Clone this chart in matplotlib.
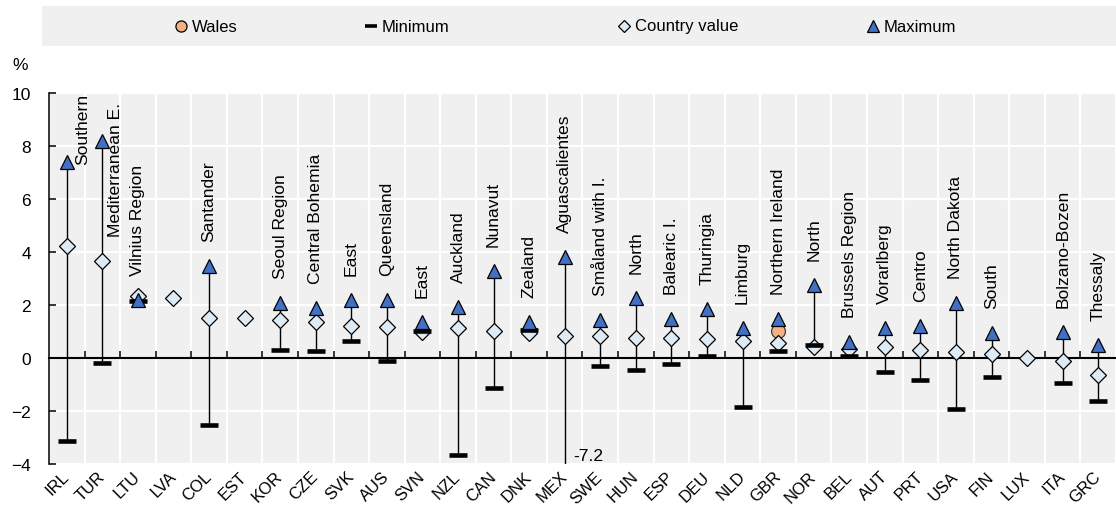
import numpy as np
import matplotlib
matplotlib.use('Agg')
import matplotlib.pyplot as plt

plt.rcParams['font.family'] = ['Liberation Sans', 'DejaVu Sans']

# data
countries = ['IRL', 'TUR', 'LTU', 'LVA', 'COL', 'EST', 'KOR', 'CZE', 'SVK', 'AUS',
             'SVN', 'NZL', 'CAN', 'DNK', 'MEX', 'SWE', 'HUN', 'ESP', 'DEU', 'NLD',
             'GBR', 'NOR', 'BEL', 'AUT', 'PRT', 'USA', 'FIN', 'LUX', 'ITA', 'GRC']
country_value = [4.23, 3.66, 2.34, 2.26, 1.51, 1.51, 1.43, 1.36, 1.21, 1.17,
                 1.0, 1.13, 1.02, 0.94, 0.83, 0.83, 0.75, 0.75, 0.72, 0.65,
                 0.57, 0.41, 0.34, 0.42, 0.30, 0.23, 0.15, 0.0, -0.11, -0.66]
minimum = [-3.13, -0.19, 2.15, np.nan, -2.53, np.nan, 0.30, 0.26, 0.65, -0.11,
           1.02, -3.66, -1.13, 1.06, -7.2, -0.29, -0.45, -0.23, 0.08, -1.85,
           0.26, 0.49, 0.08, -0.53, -0.83, -1.92, -0.72, np.nan, -0.94, -1.62]
maximum = [7.40, 8.19, 2.19, np.nan, 3.47, np.nan, 2.08, 1.89, 2.19, 2.19,
           1.36, 1.92, 3.28, 1.36, 3.80, 1.43, 2.26, 1.47, 1.85, 1.13,
           1.47, 2.75, 0.60, 1.13, 1.21, 2.08, 0.94, np.nan, 0.98, 0.49]
regions = ['Southern', 'Mediterranean E.', 'Vilnius Region', '', 'Santander', '',
           'Seoul Region', 'Central Bohemia', 'East', 'Queensland', 'East', 'Auckland',
           'Nunavut', 'Zealand', 'Aguascalientes', 'Småland with I.', 'North',
           'Balearic I.', 'Thuringia', 'Limburg', 'Northern Ireland', 'North',
           'Brussels Region', 'Vorarlberg', 'Centro', 'North Dakota', 'South', '',
           'Bolzano-Bozen', 'Thessaly']
wales_country = 'GBR'
wales_value = 1.02

# labels that had to be moved beside the marker: (dx, y)
label_override = {'IRL': (0.46, 7.32), 'TUR': (0.36, 4.6)}

BLUE = '#4170C4'
DIAMOND = '#DDEBF7'
PEACH = '#F4B183'
BG = '#F0F0F0'

fig = plt.figure(figsize=(11.16, 5.06), dpi=100)
ax = fig.add_axes([49 / 1116, 41 / 506, 1067 / 1116, 371 / 506])
ax.set_facecolor(BG)

x = np.arange(len(countries))
mins = np.array(minimum)
maxs = np.array(maximum)
ymin, ymax = -4, 10

# whiskers
has = ~np.isnan(maxs)
ax.vlines(x[has], mins[has], maxs[has], color='black', lw=1.0, zorder=2)
ax.plot(x, country_value, ls='none', marker='D', ms=7.8, mfc=DIAMOND, mec='black',
        mew=0.9, zorder=3)
gi = countries.index(wales_country)
ax.plot([gi], [wales_value], ls='none', marker='o', ms=10, mfc=PEACH, mec='#404040',
        mew=0.9, zorder=2.9)
ax.plot(x, mins, ls='none', marker='_', ms=13, mew=3.3, color='black', zorder=4)
ax.plot(x, maxs, ls='none', marker='^', ms=10.5, mfc=BLUE, mec='black', mew=0.9,
        zorder=5)

# region labels
for i, (c, r) in enumerate(zip(countries, regions)):
    if not r:
        continue
    if c in label_override:
        dx, yy = label_override[c]
        ax.text(i + dx, yy, r, rotation=90, ha='center', va='bottom', fontsize=12.6,
                zorder=6)
    else:
        ax.annotate(r, (i, maxs[i]), xytext=(0, 18), textcoords='offset points',
                    rotation=90, ha='center', va='bottom', fontsize=12.6, zorder=6)

# off-scale minimum
for i, v in enumerate(minimum):
    if not np.isnan(v) and v < ymin:
        ax.text(i + 0.25, ymin + 0.62, f'{v:.1f}', ha='left', va='top',
                fontsize=12.6, clip_on=True, zorder=6)

ax.set_xlim(-0.5, len(countries) - 0.5)
ax.set_ylim(ymin, ymax)
ax.set_yticks(range(ymin, ymax + 1, 2))
ax.set_xticks(x)
ax.set_xticklabels(countries, rotation=45, ha='right', va='center',
                   rotation_mode='anchor', fontsize=12)
ax.set_xticks(np.arange(-0.5, len(countries)), minor=True)
ax.tick_params(axis='x', which='both', length=0, pad=7)
ax.tick_params(axis='y', direction='in', length=5, width=1.1, pad=13, labelsize=12.5)
ax.grid(which='minor', axis='x', color='white', lw=1.6)
ax.grid(which='major', axis='y', color='white', lw=1.6)
ax.set_axisbelow(True)
for s in ['top', 'right', 'bottom']:
    ax.spines[s].set_visible(False)
ax.spines['left'].set_linewidth(1.1)

# zero line with tick marks at category boundaries
sec = ax.secondary_xaxis((0 - ymin) / (ymax - ymin))
sec.set_xticks(np.arange(0.5, len(countries) - 0.5))
sec.tick_params(direction='in', length=5, width=1.1, labelbottom=False)
sec.spines['bottom'].set_linewidth(1.5)
sec.set_zorder(1)

fig.text(12 / 1116, 1 - 66 / 506, '%', ha='left', va='center', fontsize=12.5)

# legend band
lax = fig.add_axes([42 / 1116, 1 - 47 / 506, 1074 / 1116, 40 / 506])
lax.set_facecolor(BG)
lax.set_xlim(42, 1116)
lax.set_ylim(0, 1)
lax.set_xticks([])
lax.set_yticks([])
for s in lax.spines.values():
    s.set_visible(False)
items = [
    (181, 'Wales', dict(marker='o', ms=8, mfc=PEACH, mec='black', mew=0.9)),
    (371, 'Minimum', dict(marker='_', ms=9, mew=2.6, color='black')),
    (624, 'Country value', dict(marker='D', ms=6, mfc=DIAMOND, mec='black', mew=0.9)),
    (873, 'Maximum', dict(marker='^', ms=8, mfc=BLUE, mec='black', mew=0.9)),
]
for px, lab, kw in items:
    lax.plot([px], [0.5], ls='none', **kw)
    lax.text(px + 11, 0.5, lab, ha='left', va='center', fontsize=12)

fig.savefig('out.png', dpi=100)
